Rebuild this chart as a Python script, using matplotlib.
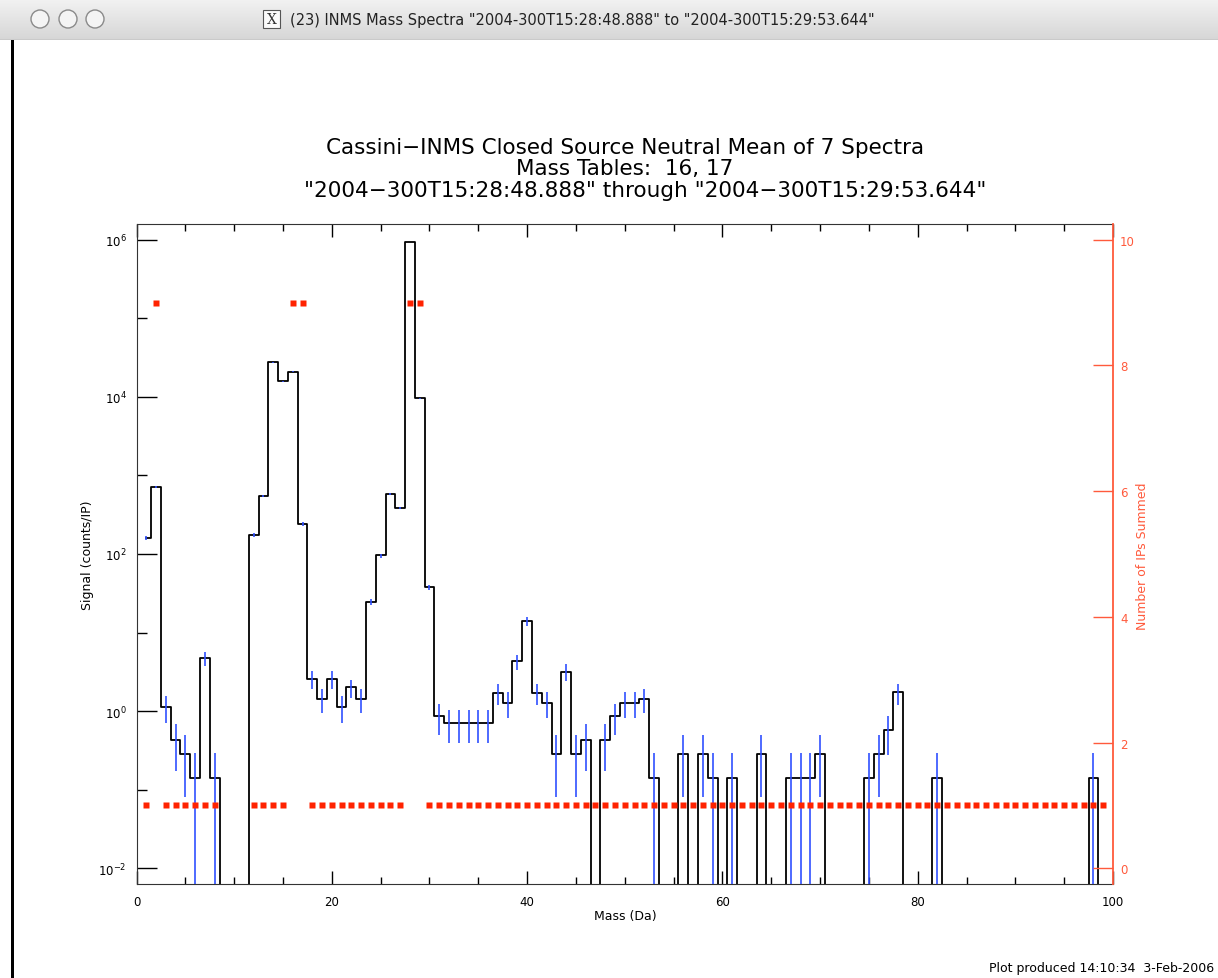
import numpy as np
import matplotlib.pyplot as plt
from matplotlib.patches import Circle, Rectangle
from matplotlib.ticker import FixedLocator, NullFormatter

plt.rcParams['font.family'] = ['DejaVu Sans']
plt.rcParams['mathtext.default'] = 'regular'

W, H = 1218, 979

# mean signal per mass (counts/IP), masses 1..99
mass = list(range(1, 100))
signal = [
    161, 719, 1.143, 0.429, 0.286, 0.143, 4.8, 0.143, 0, 0,
    0, 174, 552, 27600, 15700, 20800, 240, 2.571, 1.429, 2.571,
    1.143, 2.0, 1.429, 24.6, 96.6, 578, 388, 930000, 9600, 38.2,
    0.857, 0.714, 0.714, 0.714, 0.714, 0.714, 1.714, 1.286, 4.35, 13.9,
    1.714, 1.286, 0.286, 3.15, 0.286, 0.429, 0, 0.429, 0.857, 1.286,
    1.286, 1.429, 0.143, 0, 0, 0.286, 0, 0.286, 0.143, 0,
    0.143, 0, 0, 0.286, 0, 0, 0.143, 0.143, 0.143, 0.286,
    0, 0, 0, 0, 0.143, 0.286, 0.571, 1.75, 0, 0,
    0, 0.143, 0, 0, 0, 0, 0, 0, 0, 0,
    0, 0, 0, 0, 0, 0, 0, 0.143, 0,
]

# error bars (blue)
err_mass = [1, 2, 3, 4, 5, 6, 7, 8, 12, 13, 14, 15, 16, 17, 18, 19, 20, 21, 22, 23,
            24, 25, 26, 27, 28, 29, 30, 31, 32, 33, 34, 35, 36, 37, 38, 39, 40,
            41, 42, 43, 44, 45, 46, 48, 49, 50, 51, 52, 53, 56, 58, 59, 61, 64,
            67, 68, 69, 70, 75, 76, 77, 78, 82, 98]
err_lo = [152, 700, 0.71, 0.175, 0.08, 0, 3.76, 0, 165, 535, 27300, 15450, 20500, 228,
          1.93, 0.946, 1.93, 0.71, 1.47, 0.946, 22.2, 90, 560, 374, 925000, 9500, 34.6,
          0.49, 0.39, 0.39, 0.39, 0.39, 0.39, 1.18, 0.82, 3.37, 12.2,
          1.18, 0.82, 0.08, 2.42, 0.08, 0.175, 0.175, 0.49, 0.82, 0.82, 0.946, 0,
          0.08, 0.08, 0, 0, 0.08, 0, 0, 0, 0.08, 0, 0.08, 0.278, 1.18, 0, 0]
err_hi = [170, 740, 1.56, 0.68, 0.49, 0.295, 5.66, 0.295, 184, 570, 27900, 15950, 21100, 252,
          3.21, 1.93, 3.21, 1.56, 2.51, 1.93, 26.5, 101, 596, 402, 935000, 9700, 40.8,
          1.24, 1.04, 1.04, 1.04, 1.04, 1.04, 2.24, 1.75, 5.24, 15.8,
          2.24, 1.75, 0.49, 3.94, 0.49, 0.68, 0.68, 1.24, 1.75, 1.75, 1.93, 0.295,
          0.49, 0.49, 0.295, 0.295, 0.49, 0.295, 0.295, 0.295, 0.49, 0.295, 0.49, 0.855, 2.24,
          0.295, 0.295]

# number of IPs summed (red squares)
ip_mass = [1, 2, 3, 4, 5, 6, 7, 8] + list(range(12, 100))
ip_count = [
    1, 9, 1, 1, 1, 1, 1, 1,
    1, 1, 1, 1, 9, 9, 1, 1, 1, 1, 1, 1, 1, 1, 1, 1, 9, 9,
    1, 1, 1, 1, 1, 1, 1, 1, 1, 1, 1, 1, 1, 1, 1, 1, 1, 1, 1, 1,
    1, 1, 1, 1, 1, 1, 1, 1, 1, 1, 1, 1, 1, 1, 1, 1, 1, 1, 1, 1,
    1, 1, 1, 1, 1, 1, 1, 1, 1, 1, 1, 1, 1, 1, 1, 1, 1, 1, 1, 1,
    1, 1, 1, 1, 1, 1, 1, 1, 1, 1,
]

log_ticks = [1e-2, 1, 1e2, 1e4, 1e6]
log_tick_labels = ['$10^{-2}$', '$10^{0}$', '$10^{2}$', '$10^{4}$', '$10^{6}$']
log_minor = [1e-1, 10, 1e3, 1e5]
ip_ticks = [0, 2, 4, 6, 8, 10]
mass_ticks = [0, 20, 40, 60, 80, 100]

red = '#ff5a3c'
dot_red = '#ff2200'
blue = '#3050ff'


def fx(x):
    return x / W


def fy(y):
    return 1 - y / H


fig = plt.figure(figsize=(W / 100, H / 100), dpi=100)
fig.patch.set_facecolor('white')

# window title bar
bar = fig.add_axes([0, fy(41), 1, 41 / H])
shade = np.linspace(0.95, 0.84, 41)
grad = np.dstack([shade, shade, shade]).reshape(41, 1, 3)
bar.imshow(grad, aspect='auto', extent=[0, W, 41, 0])
bar.set_xlim(0, W)
bar.set_ylim(41, 0)
bar.axis('off')
for cx in [40, 68, 95]:
    bar.add_patch(Circle((cx, 20), 9, facecolor='#f4f4f4', edgecolor='#8a8a8a', lw=1))
bar.add_patch(Rectangle((263, 11), 17, 18, facecolor='#fafafa', edgecolor='#555', lw=0.8))
bar.text(271.5, 20.5, 'X', family='DejaVu Serif', fontsize=10, ha='center', va='center',
         color='#333')
bar.text(290, 20, '(23) INMS Mass Spectra "2004-300T15:28:48.888" to "2004-300T15:29:53.644"',
         fontsize=10.5, ha='left', va='center', color='#222')
bar.axhline(40.5, color='#9a9a9a', lw=1)
fig.add_artist(Rectangle((fx(11), 0), fx(3), fy(41), transform=fig.transFigure,
                         facecolor='black', edgecolor='none'))

# plot axes
ax = fig.add_axes([fx(136.5), fy(885), fx(1113 - 136.5), (885 - 225) / H])
ax.set_yscale('log', nonpositive='clip')
ax.step(mass, signal, where='mid', color='black', lw=1.3, zorder=2)
ax.vlines(err_mass, err_lo, err_hi, color=blue, lw=1.2, zorder=3)
ax.set_xlim(0, 100)
ax.set_ylim(10 ** -2.2, 10 ** 6.2)

ax.yaxis.set_major_locator(FixedLocator(log_ticks))
ax.yaxis.set_ticklabels(log_tick_labels)
ax.yaxis.set_minor_locator(FixedLocator(log_minor))
ax.yaxis.set_minor_formatter(NullFormatter())
ax.set_xticks(mass_ticks)
ax.set_xticks(np.arange(0, 101, 5), minor=True)
ax.tick_params(axis='y', which='major', direction='in', length=14.4, width=1,
               left=True, right=False, labelsize=8.5, pad=7)
ax.tick_params(axis='y', which='minor', direction='in', length=7.2, width=1,
               left=True, right=False)
ax.tick_params(axis='x', which='major', direction='in', length=9.4, width=1,
               top=True, bottom=True, labelsize=8.5, pad=8)
ax.tick_params(axis='x', which='minor', direction='in', length=5, width=1,
               top=True, bottom=True)
ax.spines['right'].set_visible(False)
for s in ['left', 'bottom', 'top']:
    ax.spines[s].set_color('#333333')

ax2 = ax.twinx()
ax2.plot(ip_mass, ip_count, 's', color=dot_red, ms=4.3, mec='none', zorder=4)
ax2.set_ylim(-0.25, 10.25)
ax2.set_yticks(ip_ticks)
ax2.tick_params(axis='y', direction='in', length=14.4, width=1, colors=red,
                labelsize=8.5, pad=5)
for s in ['left', 'bottom', 'top']:
    ax2.spines[s].set_visible(False)
ax2.spines['right'].set_color(red)
ax2.spines['right'].set_linewidth(1.3)

# titles and labels
fig.text(fx(625), fy(148), 'Cassini\u2212INMS Closed Source Neutral Mean of 7 Spectra',
         ha='center', va='center', fontsize=15.5)
fig.text(fx(625), fy(169), 'Mass Tables:  16, 17', ha='center', va='center', fontsize=15.5)
fig.text(fx(645), fy(191),
         '"2004\u2212300T15:28:48.888" through "2004\u2212300T15:29:53.644"',
         ha='center', va='center', fontsize=15.5)
fig.text(fx(88), fy(555), 'Signal (counts/IP)', rotation=90, ha='center', va='center',
         fontsize=9)
fig.text(fx(1143), fy(556), 'Number of IPs Summed', rotation=90, ha='center', va='center',
         fontsize=9, color=red)
fig.text(fx(625), fy(917), 'Mass (Da)', ha='center', va='center', fontsize=9)
fig.text(fx(1214), fy(969), 'Plot produced 14:10:34  3-Feb-2006', ha='right', va='center',
         fontsize=9)

fig.savefig('out.png', dpi=100)
